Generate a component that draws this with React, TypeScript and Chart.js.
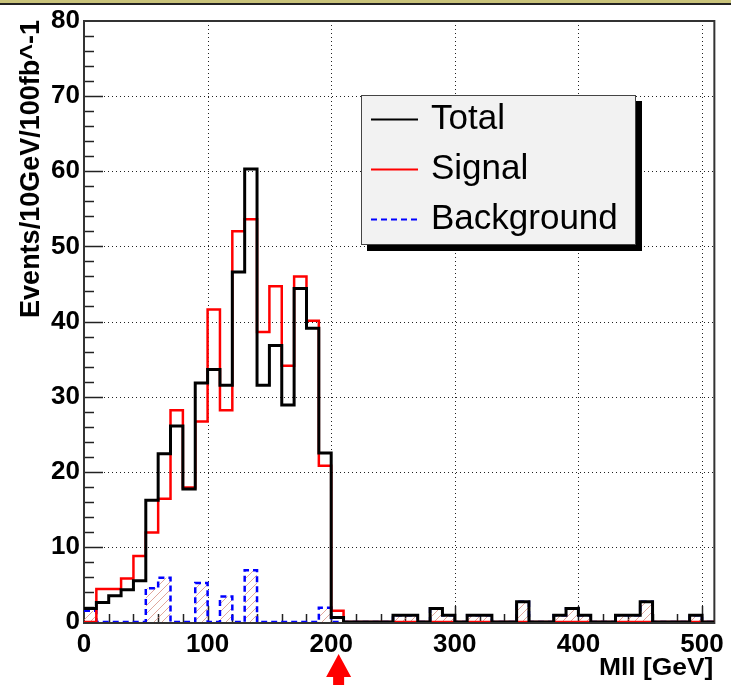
import React, { useEffect, useRef } from 'react';
import { Chart, registerables } from 'chart.js';

Chart.register(...registerables);

// ---- data (10 GeV bins from 0 to 510 GeV) ----
const binWidth = 10;
const xMin = 0;
const xMax = 510;
const yMin = 0;
const yMax = 80;

const total = [
  1.8, 2.6, 3.5, 4.3, 5.5, 16.2, 22.4, 26.1, 17.7, 31.8,
  33.6, 31.5, 46.6, 60.3, 31.5, 36.8, 28.9, 44.4, 39.1, 22.5,
  0.6, 0, 0, 0, 0, 0.9, 0.9, 0, 1.8, 0.9,
  0, 0.9, 0.9, 0, 0, 2.7, 0, 0, 0.9, 1.8,
  0.9, 0, 0, 0.9, 0.9, 2.7, 0, 0, 0, 0.9,
  0,
];
const signal = [
  0, 4.4, 4.4, 5.8, 8.8, 11.9, 16.4, 28.2, 17.9, 26.7,
  41.6, 28.2, 52.0, 53.6, 38.6, 44.7, 34.1, 46.0, 40.1, 20.8,
  1.5, 0, 0, 0, 0, 0, 0, 0, 0, 0,
  0, 0, 0, 0, 0, 0, 0, 0, 0, 0,
  0, 0, 0, 0, 0, 0, 0, 0, 0, 0,
  0,
];
const background = [
  1.5, 0, 0, 0, 0, 4.5, 5.9, 0, 0, 5.2,
  0, 3.4, 0, 6.9, 0, 0, 0, 0, 0, 1.9,
  0, 0, 0, 0, 0, 0.9, 0.9, 0, 1.8, 0.9,
  0, 0.9, 0.9, 0, 0, 2.7, 0, 0, 0.9, 1.8,
  0.9, 0, 0, 0.9, 0.9, 2.7, 0, 0, 0, 0.9,
  0,
];

const xTickValues = [0, 100, 200, 300, 400, 500];
const yTickValues = [0, 10, 20, 30, 40, 50, 60, 70, 80];
const xGridValues = [100, 200, 300, 400, 500];
const yGridValues = [10, 20, 30, 40, 50, 60, 70];
const cutValue = 206;

const legendItems = [
  { label: 'Total', color: '#000000', dash: [] as number[] },
  { label: 'Signal', color: '#ff0000', dash: [] as number[] },
  { label: 'Background', color: '#0000ff', dash: [6, 4] },
];

const xTitle = 'Mll [GeV]';
const yTitle = 'Events/10GeV/100fb^-1';

function toSteps(vals: number[]) {
  const pts = vals.map((v, i) => ({ x: xMin + i * binWidth, y: v }));
  pts.push({ x: xMin + vals.length * binWidth, y: vals[vals.length - 1] });
  return pts;
}

const FONT = '"Liberation Sans", Arial, Helvetica, sans-serif';

const decorPlugin = {
  id: 'rootDecor',
  beforeDatasetsDraw(chart: any) {
    const { ctx, chartArea } = chart;
    const { left, right, top, bottom } = chartArea;
    const xs = chart.scales.x;
    const ys = chart.scales.y;
    ctx.save();
    // dotted grid
    ctx.strokeStyle = '#222';
    ctx.lineWidth = 1;
    ctx.setLineDash([1, 3]);
    for (const v of xGridValues) {
      const px = Math.round(xs.getPixelForValue(v)) + 0.5;
      ctx.beginPath();
      ctx.moveTo(px, bottom);
      ctx.lineTo(px, top);
      ctx.stroke();
    }
    for (const v of yGridValues) {
      const py = Math.round(ys.getPixelForValue(v)) + 0.5;
      ctx.beginPath();
      ctx.moveTo(left, py);
      ctx.lineTo(right, py);
      ctx.stroke();
    }
    ctx.setLineDash([]);
    // ticks
    ctx.strokeStyle = '#222';
    ctx.lineWidth = 1.5;
    for (let v = yMin + 2; v < yMax; v += 2) {
      const py = Math.round(ys.getPixelForValue(v)) + 0.5;
      const len = v % 10 === 0 ? 19 : 10;
      ctx.beginPath();
      ctx.moveTo(left, py);
      ctx.lineTo(left + len, py);
      ctx.stroke();
    }
    for (let v = xMin + 20; v < xMax; v += 20) {
      const px = Math.round(xs.getPixelForValue(v)) + 0.5;
      const len = v % 100 === 0 ? 16 : 8;
      ctx.beginPath();
      ctx.moveTo(px, bottom);
      ctx.lineTo(px, bottom - len);
      ctx.stroke();
    }
    // frame
    ctx.strokeStyle = '#333';
    ctx.lineWidth = 2;
    ctx.strokeRect(left, top, right - left, bottom - top + 1);
    ctx.restore();
  },
  afterDraw(chart: any) {
    const { ctx, chartArea } = chart;
    const xs = chart.scales.x;
    ctx.save();
    // legend box with shadow
    const bx = 361, by = 95, bw = 275, bh = 150;
    ctx.fillStyle = '#000';
    ctx.fillRect(bx + 6, by + 6, bw, bh);
    ctx.fillStyle = '#f2f2f2';
    ctx.fillRect(bx, by, bw, bh);
    ctx.strokeStyle = '#444';
    ctx.lineWidth = 1;
    ctx.strokeRect(bx + 0.5, by + 0.5, bw - 1, bh - 1);
    legendItems.forEach((it, i) => {
      const cy = 119 + i * 50;
      ctx.strokeStyle = it.color;
      ctx.lineWidth = 2;
      ctx.setLineDash(it.dash);
      ctx.beginPath();
      ctx.moveTo(371, cy + 0.5);
      ctx.lineTo(418, cy + 0.5);
      ctx.stroke();
      ctx.setLineDash([]);
      ctx.fillStyle = '#000';
      ctx.font = `35px ${FONT}`;
      ctx.textAlign = 'left';
      ctx.textBaseline = 'alphabetic';
      ctx.fillText(it.label, 431, cy + 10);
    });

    // y title
    ctx.save();
    ctx.translate(39, chartArea.top - 1);
    ctx.rotate(-Math.PI / 2);
    ctx.font = `bold 27px ${FONT}`;
    ctx.textAlign = 'right';
    ctx.textBaseline = 'alphabetic';
    ctx.fillStyle = '#000';
    ctx.fillText(yTitle, 0, 0);
    ctx.restore();

    // x title
    ctx.save();
    ctx.translate(chartArea.right - 1, 675);
    ctx.scale(1.1, 1);
    ctx.font = `bold 24px ${FONT}`;
    ctx.textAlign = 'right';
    ctx.textBaseline = 'alphabetic';
    ctx.fillStyle = '#000';
    ctx.fillText(xTitle, 0, 0);
    ctx.restore();

    // red arrow at the cut
    const ax = xs.getPixelForValue(cutValue);
    ctx.fillStyle = '#ff0000';
    ctx.beginPath();
    ctx.moveTo(ax, 654);
    ctx.lineTo(ax + 12.5, 677);
    ctx.lineTo(ax + 5.5, 677);
    ctx.lineTo(ax + 5.5, 685);
    ctx.lineTo(ax - 5.5, 685);
    ctx.lineTo(ax - 5.5, 677);
    ctx.lineTo(ax - 12.5, 677);
    ctx.closePath();
    ctx.fill();

    // top frame band
    ctx.fillStyle = '#c9c37b';
    ctx.fillRect(0, 0, chart.width, 3);
    ctx.fillStyle = '#222';
    ctx.fillRect(0, 3, chart.width, 2);
    ctx.restore();
  },
};

export default function App() {
  const ref = useRef<HTMLCanvasElement>(null);
  useEffect(() => {
    const canvas = ref.current;
    if (!canvas) return;
    const ctx = canvas.getContext('2d')!;

    const pc = document.createElement('canvas');
    pc.width = 8;
    pc.height = 8;
    const g = pc.getContext('2d')!;
    g.strokeStyle = 'rgba(210,130,115,0.7)';
    g.lineWidth = 1;
    g.beginPath();
    g.moveTo(0, 8);
    g.lineTo(8, 0);
    g.moveTo(-1, 1);
    g.lineTo(1, -1);
    g.moveTo(7, 9);
    g.lineTo(9, 7);
    g.stroke();
    const hatch = ctx.createPattern(pc, 'repeat');

    const tickFont = { family: FONT, weight: 'bold' as const, size: 26 };

    const stepBase = {
      stepped: 'before',
      pointRadius: 0,
      borderJoinStyle: 'miter',
      borderCapStyle: 'butt',
    };

    const chart = new Chart(ctx, {
      type: 'line',
      data: {
        datasets: [
          {
            ...stepBase,
            label: 'Total',
            data: toSteps(total),
            borderColor: '#000000',
            borderWidth: 3,
            fill: false,
            order: 0,
          },
          {
            ...stepBase,
            label: 'Signal',
            data: toSteps(signal),
            borderColor: '#ff0000',
            borderWidth: 2.5,
            fill: false,
            order: 1,
          },
          {
            ...stepBase,
            label: 'Background',
            data: toSteps(background),
            borderColor: '#0000ff',
            borderWidth: 2.5,
            borderDash: [6, 4],
            fill: false,
            order: 2,
          },
          {
            ...stepBase,
            label: 'BackgroundFill',
            data: toSteps(background),
            borderColor: 'rgba(0,0,0,0)',
            borderWidth: 0,
            backgroundColor: hatch as any,
            fill: 'origin',
            order: 3,
          },
        ] as any,
      },
      options: {
        responsive: false,
        animation: false,
        events: [],
        layout: { padding: { left: 0, top: 21, right: 16, bottom: 0 } },
        plugins: {
          legend: { display: false },
          tooltip: { enabled: false },
        },
        scales: {
          x: {
            type: 'linear',
            min: xMin,
            max: xMax,
            afterBuildTicks: (s: any) => {
              s.ticks = xTickValues.map((v) => ({ value: v }));
            },
            afterFit: (s: any) => {
              s.height = 63;
            },
            grid: { display: false, drawTicks: false },
            border: { display: false },
            ticks: {
              font: tickFont,
              color: '#000',
              padding: 7,
              maxRotation: 0,
              autoSkip: false,
            },
          },
          y: {
            type: 'linear',
            min: yMin,
            max: yMax,
            afterBuildTicks: (s: any) => {
              s.ticks = yTickValues.map((v) => ({ value: v }));
            },
            afterFit: (s: any) => {
              s.width = 84;
            },
            grid: { display: false, drawTicks: false },
            border: { display: false },
            ticks: {
              font: tickFont,
              color: '#000',
              padding: 4,
              autoSkip: false,
            },
          },
        },
      } as any,
      plugins: [decorPlugin],
    });
    return () => chart.destroy();
  }, []);

  return (
    <div style={{ position: 'fixed', left: 0, top: 0, width: 731, height: 685, background: '#fff' }}>
      <canvas ref={ref} width={731} height={685} style={{ display: 'block' }} />
    </div>
  );
}
